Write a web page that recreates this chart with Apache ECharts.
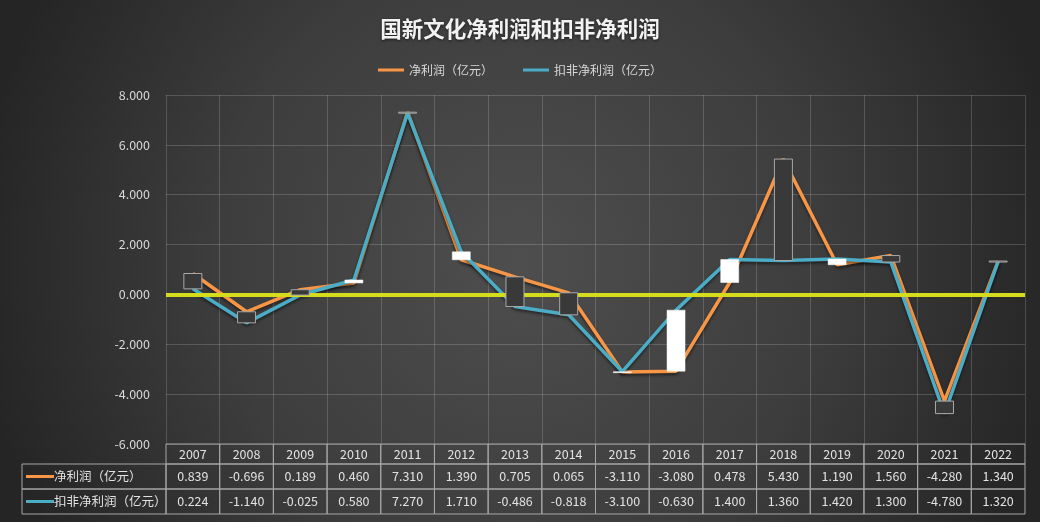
<!DOCTYPE html>
<html>
<head>
<meta charset="utf-8">
<script src="https://cdn.jsdelivr.net/npm/echarts@6/dist/echarts.min.js"></script>
<style>
html,body{margin:0;padding:0;background:#2b2b2b;}
#chart{width:1040px;height:522px;}
</style>
</head>
<body>
<div id="chart"></div>
<script>
const categories = ['2007','2008','2009','2010','2011','2012','2013','2014','2015','2016','2017','2018','2019','2020','2021','2022'];
const netProfit = [0.839,-0.696,0.189,0.460,7.310,1.390,0.705,0.065,-3.110,-3.080,0.478,5.430,1.190,1.560,-4.280,1.340];
const deductedProfit = [0.224,-1.140,-0.025,0.580,7.270,1.710,-0.486,-0.818,-3.100,-0.630,1.400,1.360,1.420,1.300,-4.780,1.320];
const seriesNames = ['净利润（亿元）','扣非净利润（亿元）'];
const yMin = -6, yMax = 8, yStep = 2;

const FONT = '"Noto Sans CJK SC", "Microsoft YaHei", sans-serif';
const chart = echarts.init(document.getElementById('chart'));

const ORANGE = '#f79646', TEAL = '#4bacc6';
const BORDER = '#a6a6a6', TXT = '#e2e2e2';
const rowH = [20, 25, 25];

function tableItem(params, api) {
  const i = api.value(0);
  const c = api.coord([i, yMin]);
  const w = api.size([1, 0])[0];
  const x0 = c[0] - w / 2;
  let y = c[1];
  const texts = [categories[i], netProfit[i].toFixed(3), deductedProfit[i].toFixed(3)];
  const children = [];
  for (let r = 0; r < 3; r++) {
    children.push({type:'rect', shape:{x:x0, y:y, width:w, height:rowH[r]}, style:{fill:'none', stroke:BORDER, lineWidth:1}});
    children.push({type:'text', style:{text:texts[r], x:c[0], y:y + rowH[r]/2, align:'center', verticalAlign:'middle', fill:TXT, font:'12.5px ' + FONT}});
    y += rowH[r];
  }
  return {type:'group', children};
}

function updownItem(params, api) {
  const i = api.value(0);
  const a = api.value(1), b = api.value(2);
  const p1 = api.coord([i, a]);
  const p2 = api.coord([i, b]);
  const bw = 18;
  const top = Math.min(p1[1], p2[1]);
  const h = Math.max(Math.abs(p1[1] - p2[1]), 1);
  const up = b > a;
  return {
    type:'rect',
    shape:{x:p1[0] - bw/2, y:top, width:bw, height:h},
    style: up ? {fill:'#ffffff', stroke:'#ffffff', lineWidth:0.5} : {fill:'#393939', stroke:'#a8a8a8', lineWidth:1}
  };
}

chart.setOption({
  backgroundColor: {
    type:'radial', x:0.5, y:0.5, r:1.05,
    colorStops:[{offset:0, color:'#4e4e4e'},{offset:0.55, color:'#3d3d3d'},{offset:1, color:'#252525'}]
  },
  textStyle:{fontFamily:FONT},
  title:{
    text:'国新文化净利润和扣非净利润', left:'center', top:13,
    textStyle:{color:'#f2f2f2', fontSize:21.5, fontWeight:'bold', fontFamily:FONT,
      textShadowColor:'rgba(0,0,0,0.6)', textShadowBlur:3, textShadowOffsetY:1}
  },
  legend:{
    data:seriesNames, top:59, left:'center', itemGap:30, itemWidth:26, itemHeight:3, icon:'rect',
    textStyle:{color:'#d9d9d9', fontSize:12, fontFamily:FONT}
  },
  grid:{left:166, right:15, top:95, bottom:78},
  xAxis:{
    type:'category', data:categories, boundaryGap:true,
    axisLine:{show:false}, axisTick:{show:false}, axisLabel:{show:false},
    splitLine:{show:true, lineStyle:{color:'rgba(255,255,255,0.17)', width:1}}
  },
  yAxis:{
    type:'value', min:yMin, max:yMax, interval:yStep,
    axisLine:{show:false}, axisTick:{show:false},
    axisLabel:{color:'#d9d9d9', fontSize:12.5, margin:16, formatter:v => v.toFixed(3), fontFamily:FONT},
    splitLine:{lineStyle:{color:'rgba(255,255,255,0.17)', width:1}}
  },
  series:[
    {
      name:'zero', type:'line', data:[], z:1, silent:true,
      markLine:{silent:true, symbol:['none','none'], label:{show:false},
        lineStyle:{color:'#d5dc1c', width:4, type:'solid'}, data:[{yAxis:0}]}
    },
    {
      name:seriesNames[0], type:'line', data:netProfit, z:3, symbol:'none', color:ORANGE,
      lineStyle:{width:3.5, color:ORANGE, shadowColor:'rgba(0,0,0,0.5)', shadowBlur:3, shadowOffsetY:2}
    },
    {
      name:seriesNames[1], type:'line', data:deductedProfit, z:4, symbol:'none', color:TEAL,
      lineStyle:{width:3.5, color:TEAL, shadowColor:'rgba(0,0,0,0.5)', shadowBlur:3, shadowOffsetY:2}
    },
    {
      name:'updown', type:'custom', z:6, silent:true,
      data:categories.map((c, i) => [i, netProfit[i], deductedProfit[i]]),
      encode:{x:0, y:[1,2]},
      renderItem:updownItem
    },
    {
      name:'table', type:'custom', z:6, silent:true, clip:false,
      data:categories.map((c, i) => [i, yMin]),
      encode:{x:0, y:1},
      renderItem:tableItem
    }
  ],
  graphic:[
    {type:'rect', shape:{x:22, y:464, width:144, height:25}, style:{fill:'none', stroke:BORDER, lineWidth:1}},
    {type:'rect', shape:{x:22, y:489, width:144, height:25}, style:{fill:'none', stroke:BORDER, lineWidth:1}},
    {type:'line', shape:{x1:26, y1:476.5, x2:54, y2:476.5}, style:{stroke:ORANGE, lineWidth:3}},
    {type:'line', shape:{x1:26, y1:501.5, x2:54, y2:501.5}, style:{stroke:TEAL, lineWidth:3}},
    {type:'text', style:{text:seriesNames[0], x:54, y:476.5, verticalAlign:'middle', fill:TXT, font:'12.5px ' + FONT}},
    {type:'text', style:{text:seriesNames[1], x:54, y:501.5, verticalAlign:'middle', fill:TXT, font:'12.5px ' + FONT}}
  ]
});
</script>
</body>
</html>
